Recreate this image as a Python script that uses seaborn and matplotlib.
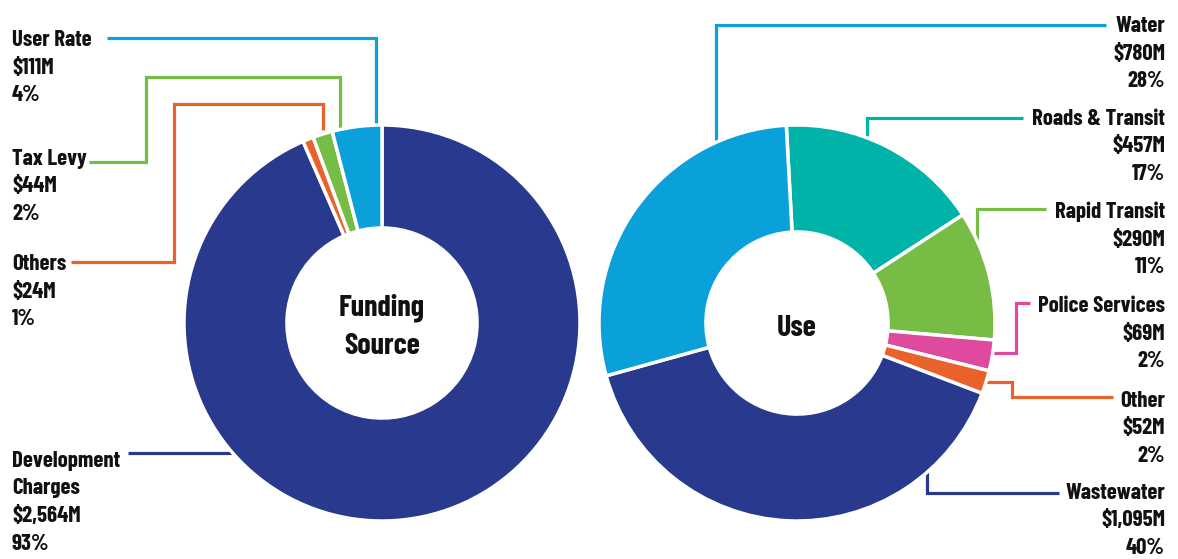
import os
import matplotlib
matplotlib.use("Agg")
import matplotlib.pyplot as plt
from matplotlib import font_manager as fm
from matplotlib.textpath import TextPath
import seaborn as sns

# Capital funding sources ($M), clockwise from 12 o'clock
source_names = ["Development\nCharges", "Others", "Tax Levy", "User Rate"]
source_values = [2564, 24, 44, 111]
source_pcts = ["93%", "1%", "2%", "4%"]

# Capital uses ($M), clockwise starting just left of 12 o'clock
use_names = ["Roads & Transit", "Rapid Transit", "Police Services", "Other", "Wastewater", "Water"]
use_values = [457, 290, 69, 52, 1095, 780]
use_pcts = ["17%", "11%", "2%", "2%", "40%", "28%"]

NAVY = "#293A8E"
SKY = "#0AA0DA"
GREEN = "#77BD45"
ORANGE = "#E9622B"
TEAL = "#00B3A8"
PINK = "#E04A9E"
source_colors = sns.color_palette([NAVY, ORANGE, GREEN, SKY])
use_colors = sns.color_palette([TEAL, GREEN, PINK, ORANGE, NAVY, SKY])

sns.set_theme(style="white")


def _rank(path):
    b = os.path.basename(path).lower()
    if "italic" in b or "oblique" in b or "[" in b:
        return 99
    if "semibold" in b:
        return 1
    if "extrabold" in b:
        return 3
    if "bold" in b:
        return 0
    if "medium" in b:
        return 2
    return 99


def condensed_bold():
    families = ["Barlow Condensed", "Roboto Condensed", "Archivo Narrow", "PT Sans Narrow",
                "Liberation Sans Narrow", "Oswald"]
    for fam in families:
        files = sorted((f.fname for f in fm.fontManager.ttflist if f.name == fam), key=_rank)
        if files and _rank(files[0]) < 99:
            return files[0]
    return None


FONT_FILE = condensed_bold()


def base_font():
    if FONT_FILE:
        return fm.FontProperties(fname=FONT_FILE)
    return fm.FontProperties(family="DejaVu Sans", weight="bold")


def font_for_cap(cap_px):
    fp = base_font()
    fp.set_size(100)
    cap_em = TextPath((0, 0), "H", prop=fp).get_extents().height / 100.0
    fp.set_size(cap_px / cap_em * 72 / 100)
    return fp


W, H = 1178, 559
fig = plt.figure(figsize=(W / 100, H / 100), dpi=100)
fig.patch.set_facecolor("white")

# Pixel-space overlay for leader lines and labels (drawn beneath the donuts)
ov = fig.add_axes([0, 0, 1, 1])
ov.set_xlim(0, W)
ov.set_ylim(H, 0)
ov.axis("off")


def donut(cx, cy, r, values, colors, start, hole):
    ax = fig.add_axes([(cx - r) / W, (H - cy - r) / H, 2 * r / W, 2 * r / H])
    ax.pie(values, colors=colors, startangle=start, counterclock=False, radius=1,
           wedgeprops=dict(width=1 - hole, edgecolor="white", linewidth=2.5))
    ax.set_xlim(-1, 1)
    ax.set_ylim(-1, 1)
    ax.set_aspect("equal")
    ax.axis("off")
    return ax


donut(382, 323, 198, source_values, source_colors, 90, 0.48)
donut(797, 323, 198, use_values, use_colors, 93.1, 0.46)

LW = 2.3
LINE_STEP = 27.5
label_fp = font_for_cap(16)


def label_block(x, y0, name, value, pct, ha):
    lines = name.split("\n") + [f"${value:,}M", pct]
    for i, t in enumerate(lines):
        ov.text(x, y0 + i * LINE_STEP, t, ha=ha, va="baseline",
                fontproperties=label_fp, color="#111111")


def leader(points, color):
    xs, ys = zip(*points)
    ov.plot(xs, ys, color=color, lw=LW, solid_joinstyle="miter", solid_capstyle="butt")


# Funding source labels (left side)
left_x = 12
source_layout = {
    "User Rate": (46, [(107, 38), (376, 38), (376, 135)]),
    "Tax Levy": (165, [(89, 162), (146, 162), (146, 77), (340, 77), (340, 128)]),
    "Others": (270, [(71, 262), (174, 262), (174, 104), (323, 104), (323, 130)]),
    "Development\nCharges": (467, [(128, 453), (245, 453)]),
}
for name, val, pct, col in zip(source_names, source_values, source_pcts, source_colors):
    y0, pts = source_layout[name]
    leader(pts, col)
    label_block(left_x, y0, name, val, pct, "left")

# Use labels (right side)
right_x = 1165
use_layout = {
    "Water": (32, [(1106, 25), (716, 25), (716, 145)]),
    "Roads & Transit": (125, [(1023, 118), (867, 118), (867, 142)]),
    "Rapid Transit": (218, [(1046, 209), (977, 209), (977, 245)]),
    "Police Services": (312, [(1030, 303), (1016, 303), (1016, 353), (985, 353)]),
    "Other": (407, [(1113, 397), (1012, 397), (1012, 382), (980, 382)]),
    "Wastewater": (499, [(1059, 493), (927, 493), (927, 465)]),
}
for name, val, pct, col in zip(use_names, use_values, use_pcts, use_colors):
    y0, pts = use_layout[name]
    leader(pts, col)
    label_block(right_x, y0, name, val, pct, "right")

# Donut centre titles
title_fp = font_for_cap(21)
fig.text(382 / W, 1 - 315 / H, "Funding", ha="center", va="baseline", fontproperties=title_fp, color="#111111")
fig.text(382 / W, 1 - 354 / H, "Source", ha="center", va="baseline", fontproperties=title_fp, color="#111111")
fig.text(797 / W, 1 - 336 / H, "Use", ha="center", va="baseline", fontproperties=title_fp, color="#111111")

fig.savefig("out.png", dpi=100, facecolor="white")
